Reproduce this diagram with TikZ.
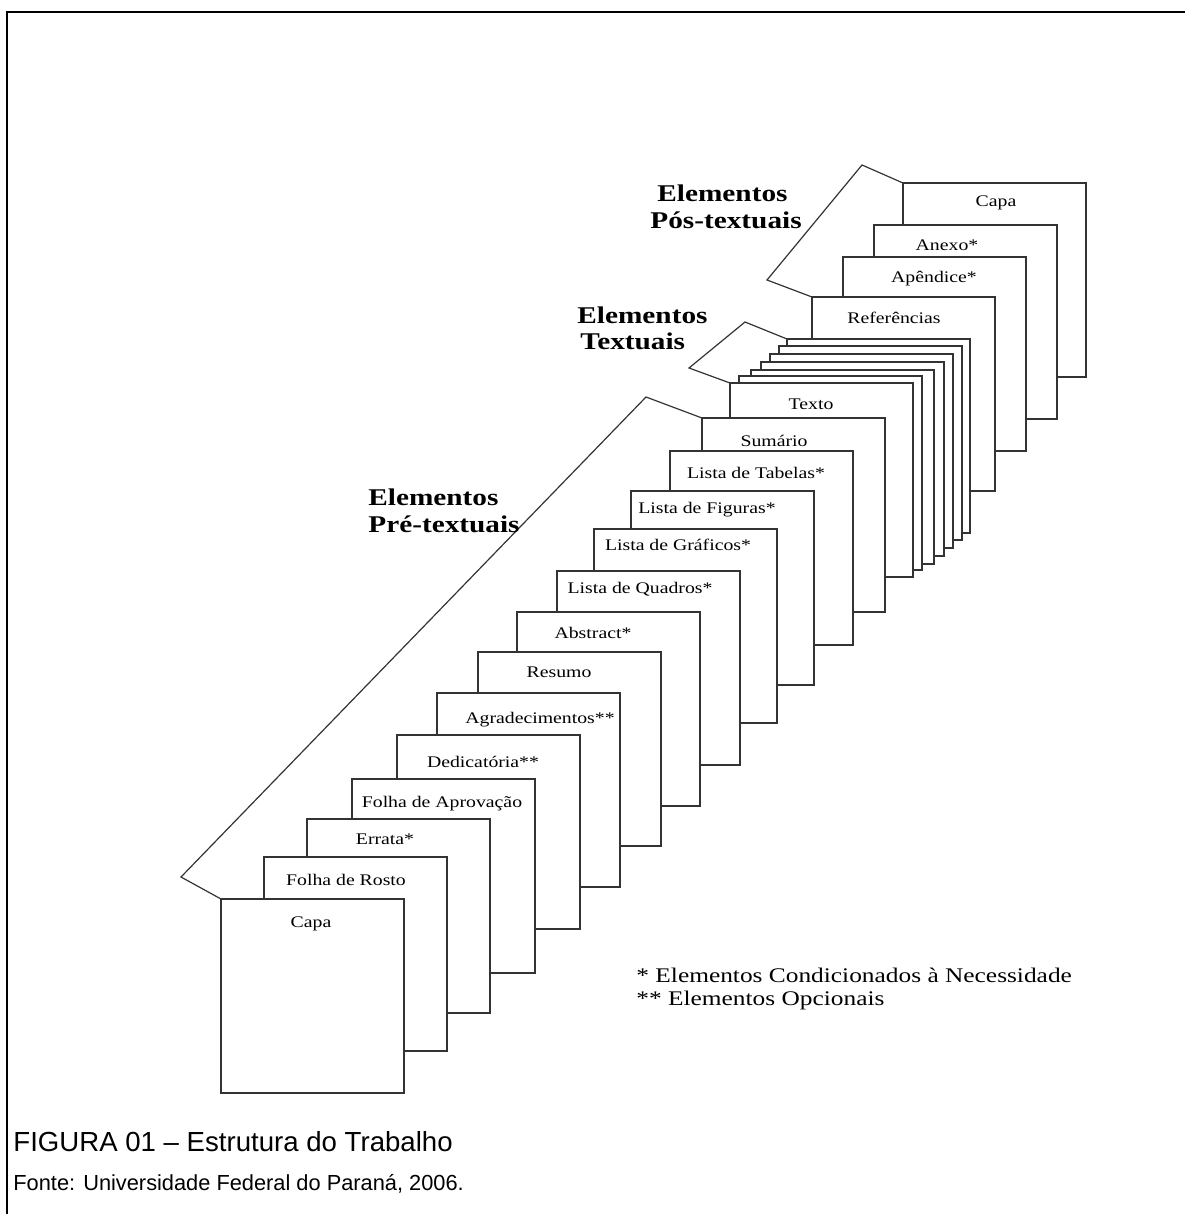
\documentclass[tikz,border=0pt]{standalone}
\usepackage{fontspec}
\setmainfont{Liberation Serif}[FakeStretch=1.22]
\newfontfamily\capfont{Liberation Sans}
\usetikzlibrary{positioning}

\begin{document}
\begin{tikzpicture}[%
    x=0.5pt,
    y=-0.5pt,
    page/.style={draw=black!80, line width=0.6pt, fill=white,
      minimum width=91.5pt, minimum height=97pt,
      anchor=north west, outer sep=0pt, inner sep=0pt},
    pagelabel/.style={anchor=base, inner sep=0pt,
      font=\fontsize{8.1}{9}\selectfont},
    grouplabel/.style={anchor=base west, inner sep=0pt,
      font=\fontsize{12}{14}\selectfont\bfseries},
    note/.style={anchor=base west, inner sep=0pt,
      font=\fontsize{10.4}{12}\selectfont},
    bracket/.style={draw=black!80, line width=0.6pt}
  ]
  \useasboundingbox (0,0) rectangle (1185,1214);

  % frame
  \draw[line width=1pt] (7,1214) -- (7,12) -- (1185,12);

  % bracket corners
  \coordinate (postL) at (767,280);
  \coordinate (postT) at (862,165);
  \coordinate (txtL) at (689,368);
  \coordinate (txtT) at (745,322);
  \coordinate (preL) at (181,877);
  \coordinate (preT) at (646,397);

  % post-textual pages
  \node[page] (capaB) at (903,183) {};
  \node[page] (anexo) at (874,225) {};
  \node[page] (apendice) at (843,257) {};
  \node[page] (refs) at (812,297) {};

  % textual pages
  \node[page] (t6) at (787,339) {};
  \node[page] (t5) at (779,346) {};
  \node[page] (t4) at (770,354) {};
  \node[page] (t3) at (761,362) {};
  \node[page] (t2) at (751,370) {};
  \node[page] (t1) at (739,376) {};
  \node[page] (texto) at (730,383) {};

  % pre-textual pages
  \node[page] (sumario) at (702,418) {};
  \node[page] (tabelas) at (670,451) {};
  \node[page] (figuras) at (631,491) {};
  \node[page] (graficos) at (594,529) {};
  \node[page] (quadros) at (557,571) {};
  \node[page] (abstract) at (517,612) {};
  \node[page] (resumo) at (478,652) {};
  \node[page] (agrad) at (437,693) {};
  \node[page] (dedic) at (397,735) {};
  \node[page] (aprov) at (352,779) {};
  \node[page] (errata) at (307,819) {};
  \node[page] (rosto) at (264,857) {};
  \node[page] (capaA) at (221,899) {};

  \path[bracket] (refs.north west) -- (postL) -- (postT) -- (capaB.north west);
  \path[bracket] (texto.north west) -- (txtL) -- (txtT) -- (t6.north west);
  \path[bracket] (capaA.north west) -- (preL) -- (preT) -- (sumario.north west);

  % page titles
  \node[pagelabel] (lcapaB) at (996,206) {Capa};
  \node[pagelabel] (lanexo) at (947,250) {Anexo*};
  \node[pagelabel] (lapendice) at (934,282) {Apêndice*};
  \node[pagelabel] (lrefs) at (894,323) {Referências};
  \node[pagelabel] (ltexto) at (811,409) {Texto};
  \node[pagelabel] (lsumario) at (774,446) {Sumário};
  \node[pagelabel] (ltabelas) at (756,478) {Lista de Tabelas*};
  \node[pagelabel] (lfiguras) at (707,513) {Lista de Figuras*};
  \node[pagelabel] (lgraficos) at (678,550) {Lista de Gráficos*};
  \node[pagelabel] (lquadros) at (640,593) {Lista de Quadros*};
  \node[pagelabel] (labstract) at (593,638) {Abstract*};
  \node[pagelabel] (lresumo) at (559,677) {Resumo};
  \node[pagelabel] (lagrad) at (540,723) {Agradecimentos**};
  \node[pagelabel] (ldedic) at (483,767) {Dedicatória**};
  \node[pagelabel] (laprov) at (442,807) {Folha de Aprovação};
  \node[pagelabel] (lerrata) at (385,844) {Errata*};
  \node[pagelabel] (lrosto) at (346,885) {Folha de Rosto};
  \node[pagelabel] (lcapaA) at (311,927) {Capa};

  % group titles
  \node[grouplabel] (posA) at (657,202) {Elementos};
  \node[grouplabel] (posB) at (650,228) {Pós-textuais};
  \node[grouplabel] (txtA) at (577,323) {Elementos};
  \node[grouplabel] (txtB) at (580,349) {Textuais};
  \node[grouplabel] (preA) at (368,505) {Elementos};
  \node[grouplabel] (preB) at (368,532) {Pré-textuais};

  % legend
  \node[note] (cond) at (636,982) {* Elementos Condicionados à Necessidade};
  \node[note] (opc) at (636,1005) {** Elementos Opcionais};

  % caption
  \node[anchor=base west, inner sep=0pt, font=\capfont\fontsize{13.8}{16}\selectfont]
    (figcap) at (13,1151) {FIGURA 01 – Estrutura do Trabalho};
  \node[anchor=base west, inner sep=0pt, font=\capfont\fontsize{10.9}{13}\selectfont]
    (fonte) at (13,1190) {Fonte: Universidade Federal do Paraná, 2006.};
\end{tikzpicture}
\end{document}
